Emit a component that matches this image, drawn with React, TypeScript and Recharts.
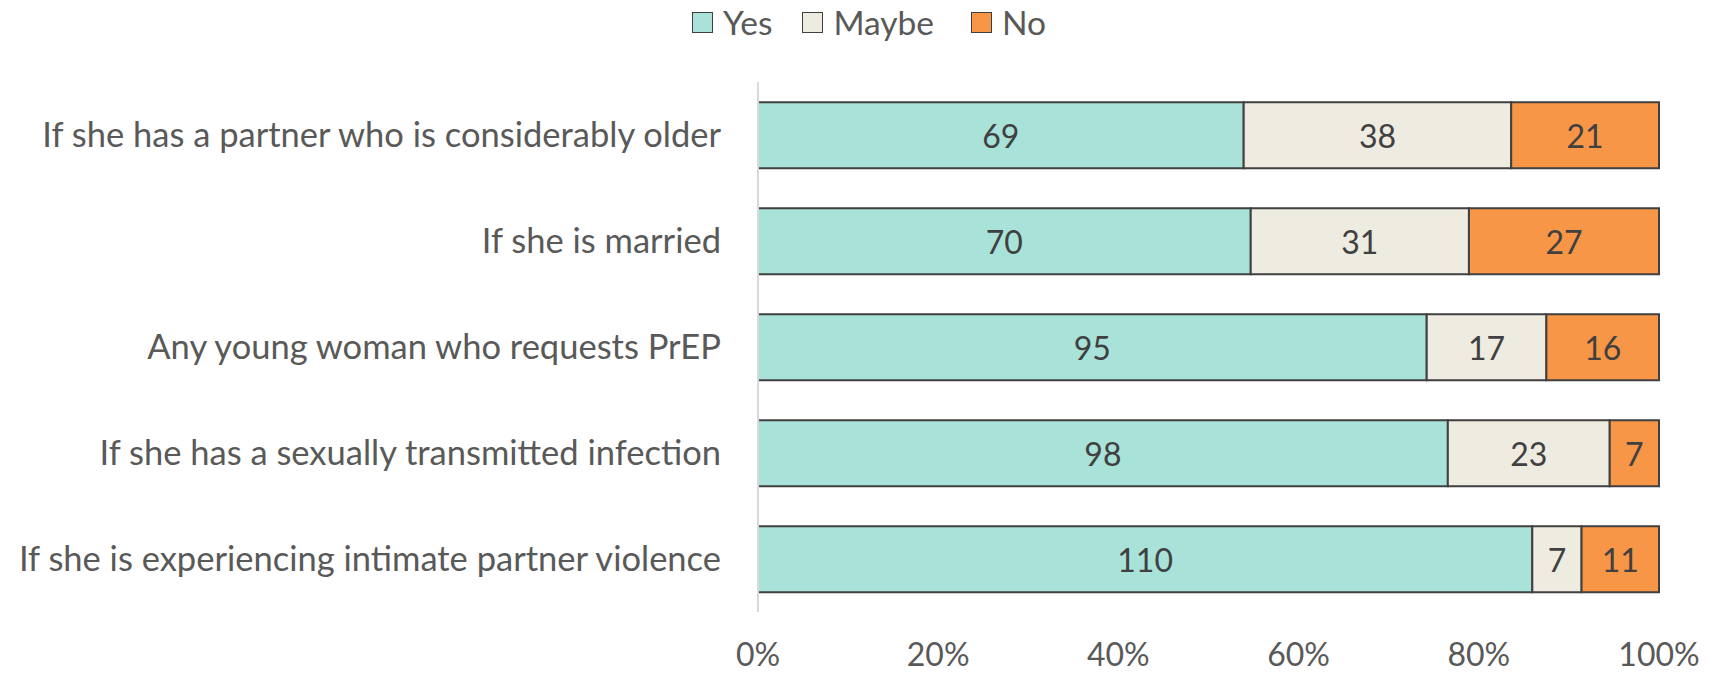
import React from "react";
import { BarChart, Bar, XAxis, YAxis, Legend, LabelList } from "recharts";

const categories = [
  "If she has a partner who is considerably older",
  "If she is married",
  "Any young woman who requests PrEP",
  "If she has a sexually transmitted infection",
  "If she is experiencing intimate partner violence",
];
const yesValues = [69, 70, 95, 98, 110];
const maybeValues = [38, 31, 17, 23, 7];
const noValues = [21, 27, 16, 7, 11];
const xTicks = [0, 0.2, 0.4, 0.6, 0.8, 1];

const seriesDefs = [
  { key: "yes", name: "Yes", color: "#A8E2D9", values: yesValues },
  { key: "maybe", name: "Maybe", color: "#EEEBE1", values: maybeValues },
  { key: "no", name: "No", color: "#F79646", values: noValues },
];

const data = categories.map((c, i) => ({
  name: c,
  yes: yesValues[i],
  maybe: maybeValues[i],
  no: noValues[i],
}));

const FONT = "Lato, 'Open Sans', sans-serif";
const FS = 32;
const CAT_FS = 34.5;

const makeLabel = (values: number[]) => (props: any) => {
  const { x, y, width, height, index } = props;
  const v = values[index];
  if (v === undefined) return null;
  return (
    <text
      x={Number(x) + Number(width) / 2}
      y={Number(y) + Number(height) / 2}
      textAnchor="middle"
      dominantBaseline="central"
      fill="#404040"
      fontSize={FS}
      fontFamily={FONT}
    >
      {v}
    </text>
  );
};

const LegendContent = () => (
  <div
    style={{
      height: 40,
      display: "flex",
      alignItems: "center",
      paddingLeft: 692,
      fontFamily: FONT,
      fontSize: 33.5,
      color: "#595959",
    }}
  >
    {seriesDefs.map((s, i) => (
      <div key={s.key} style={{ display: "flex", alignItems: "center", marginRight: i === 0 ? 30 : 37 }}>
        <div
          style={{
            width: 19,
            height: 19,
            background: s.color,
            border: "1.5px solid #404040",
            marginRight: 10,
          }}
        />
        <span style={{ lineHeight: "40px" }}>{s.name}</span>
      </div>
    ))}
  </div>
);

export default function App() {
  return (
    <div style={{ position: "absolute", left: 0, top: 0, background: "#fff" }}>
      <BarChart
        width={1714}
        height={674}
        data={data}
        layout="vertical"
        stackOffset="expand"
        barCategoryGap="19%"
        margin={{ top: 42, right: 55, bottom: 0, left: 0 }}
      >
        <Legend
          verticalAlign="top"
          align="left"
          content={<LegendContent />}
          wrapperStyle={{ top: 2, left: 0, width: 1714, height: 40 }}
        />
        <XAxis
          type="number"
          domain={[0, 1]}
          ticks={xTicks}
          tickFormatter={(v: number) => `${Math.round(v * 100)}%`}
          axisLine={false}
          tickLine={false}
          tickSize={0}
          tickMargin={31}
          height={62}
          tick={{ fill: "#595959", fontSize: FS, fontFamily: FONT }}
          interval={0}
        />
        <YAxis
          type="category"
          dataKey="name"
          width={758}
          axisLine={{ stroke: "#D9D9D9", strokeWidth: 2 }}
          tickLine={false}
          tickSize={0}
          tickMargin={37}
          interval={0}
          tick={{ fill: "#595959", fontSize: CAT_FS, fontFamily: FONT }}
        />
        {seriesDefs.map((s) => (
          <Bar
            key={s.key}
            dataKey={s.key}
            name={s.name}
            stackId="a"
            fill={s.color}
            stroke="#404040"
            strokeWidth={2}
            isAnimationActive={false}
          >
            <LabelList dataKey={s.key} content={makeLabel(s.values)} />
          </Bar>
        ))}
      </BarChart>
    </div>
  );
}
